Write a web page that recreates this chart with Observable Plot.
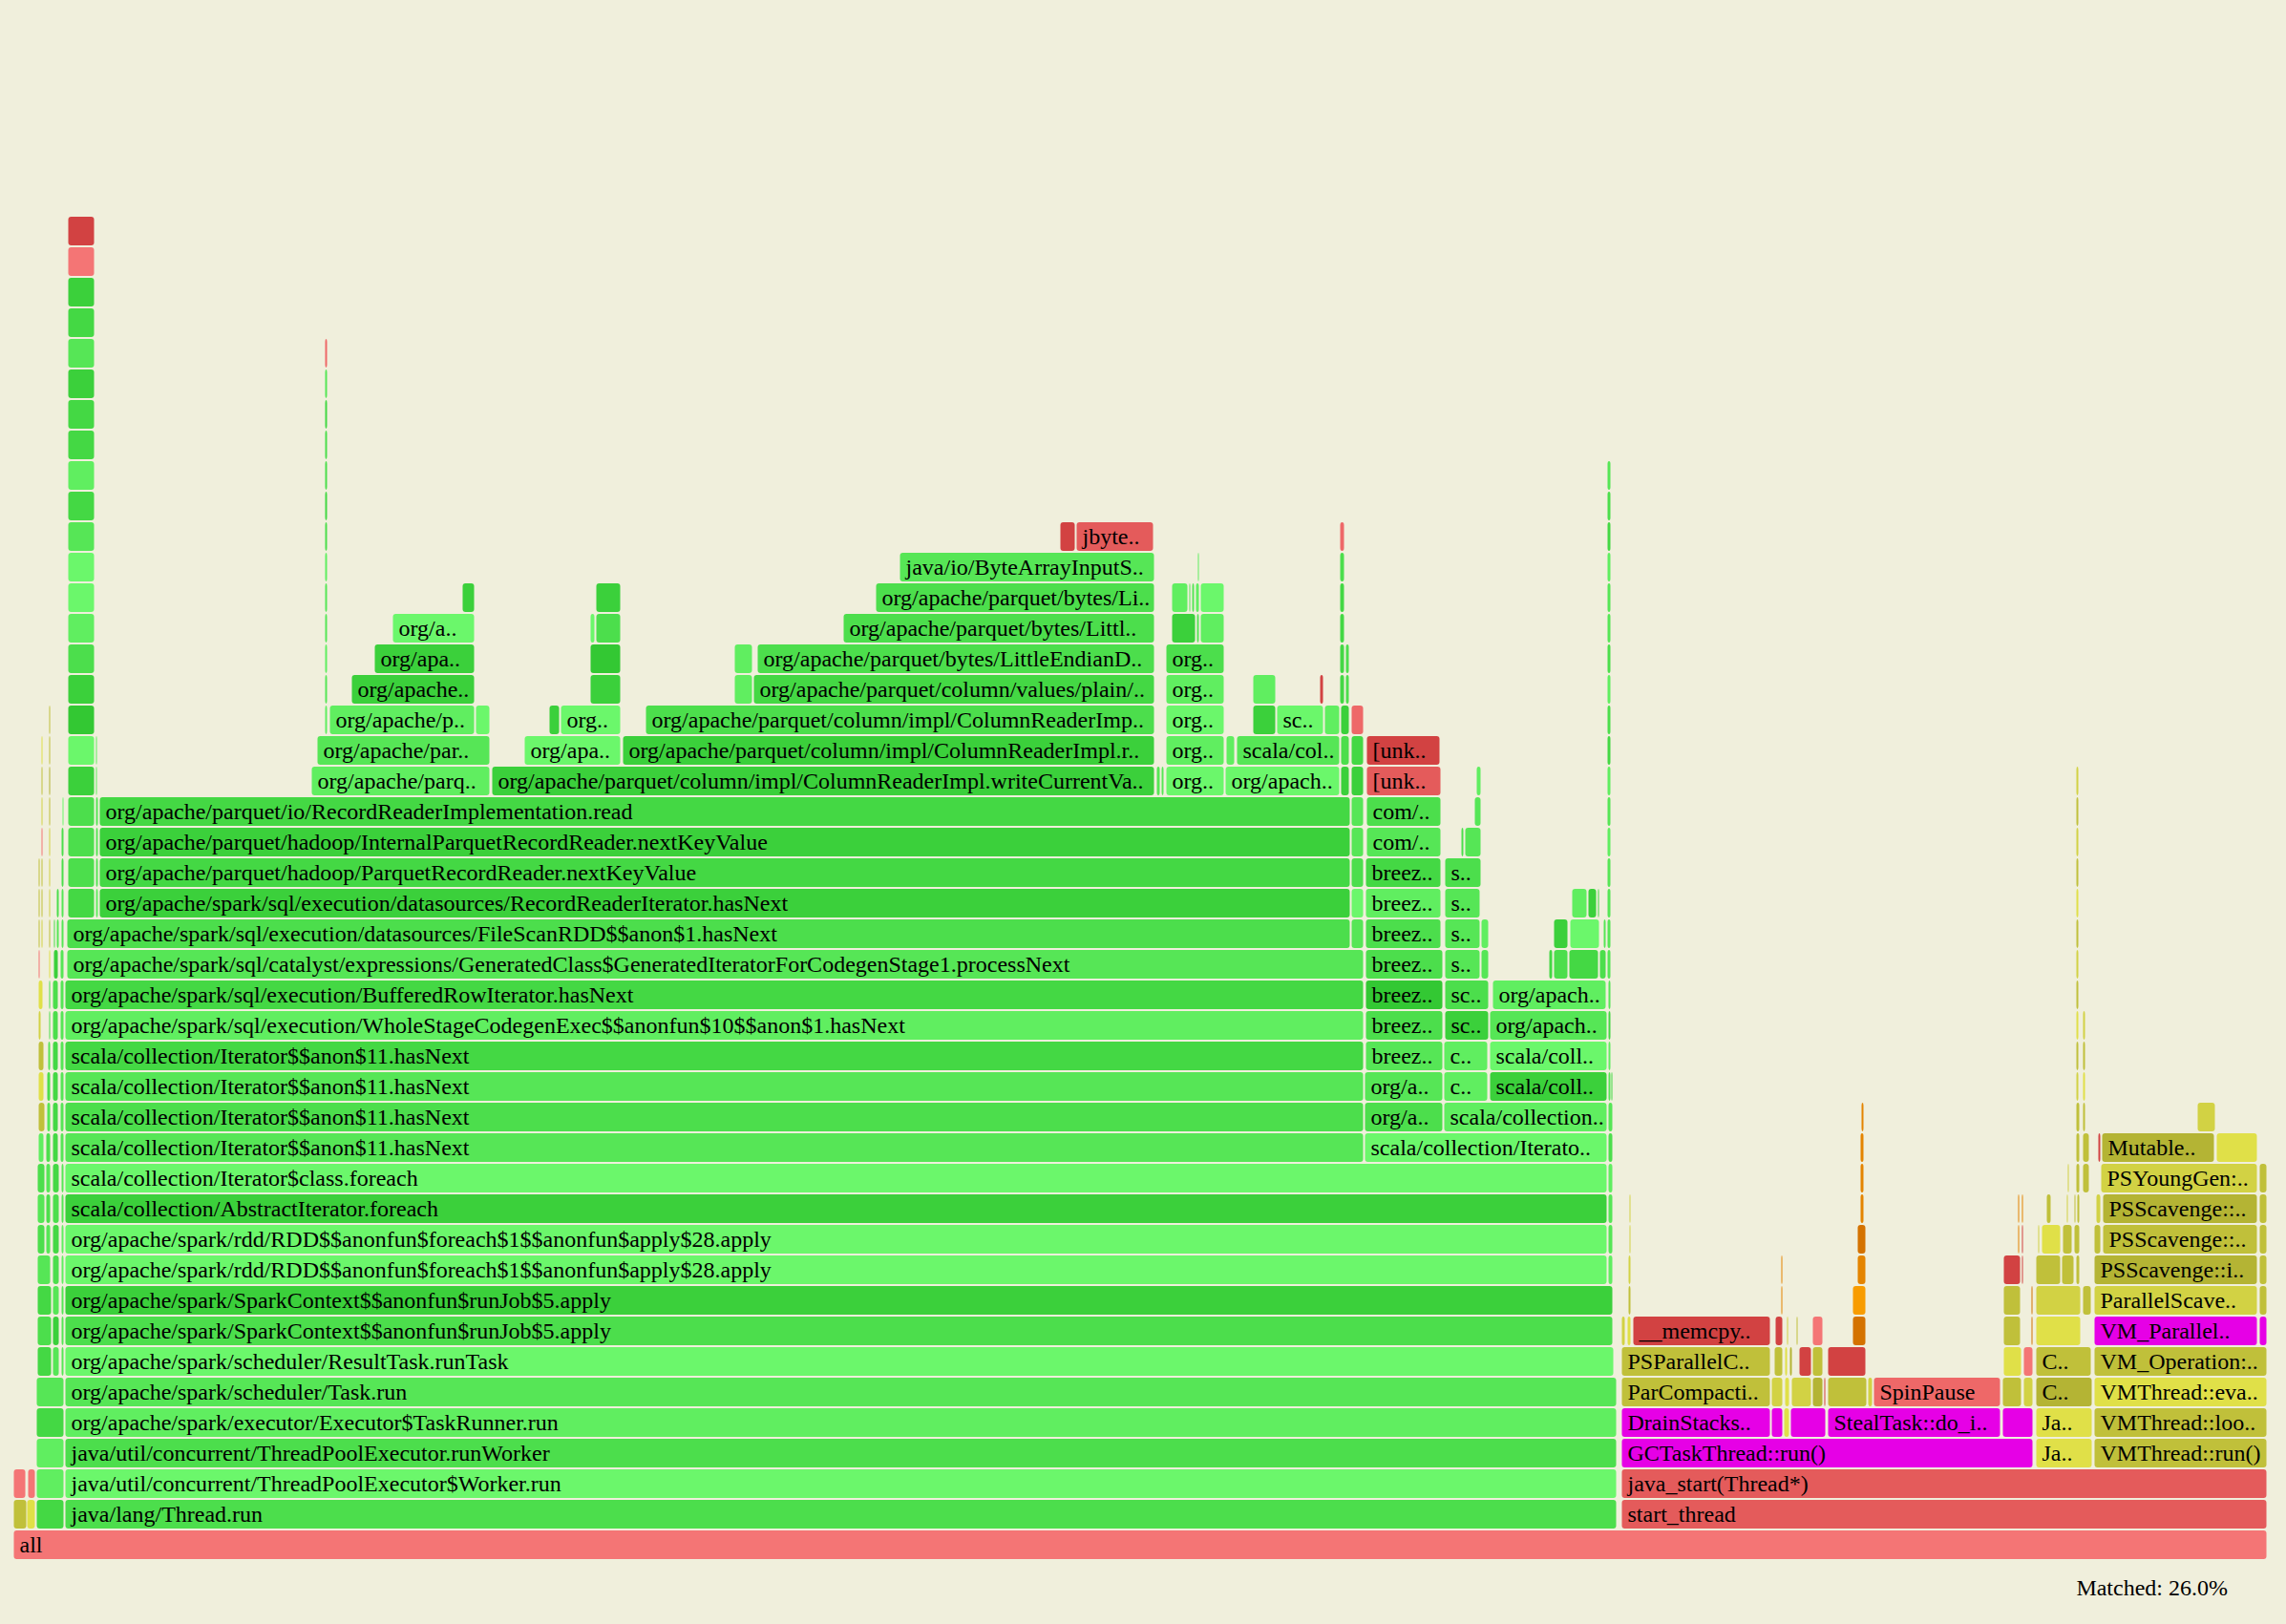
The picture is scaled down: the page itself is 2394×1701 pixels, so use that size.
<!DOCTYPE html>
<html><head><meta charset="utf-8">
<script src="https://cdn.jsdelivr.net/npm/d3@7"></script>
<script src="https://cdn.jsdelivr.net/npm/@observablehq/plot@0.6"></script>
<style>
html,body{margin:0;padding:0;background:#f0efdc;}
#chart svg{display:block}
#matched{font-family:"Liberation Serif",serif;font-size:24px;height:56px;line-height:36px;text-align:right;padding-right:61px;color:#000}
</style></head><body>
<div id="chart"></div><div id="matched">Matched: 26.0%</div>
<script>
// Flame graph: total samples and frames as [depth, startSample, endSample, label, colorKey]
const TOTAL_SAMPLES = 2360;

const shadeKeys = ["g1","g2","g3","g4","g5","g6","g7","r1","r2","r3","r4","y1","y2","y3","y4","m","o1","o2","o3"];
const shadeColors = ["#6bf76b","#60ee60","#56e656","#4cde4c","#44d844","#3bd03b","#33c833",
  "#f47575","#e45b5b","#d24242","#ee6868","#e0e048","#d2d244","#c0c03a","#b4b434","#e600e6","#f89c00","#e48400","#d47200"];

const rootFrames = [
  [0,0,2360,"all","r1"],
  [1,0,14,"","y3"],[1,14,23,"","y1"],[1,24,53,"","g5"],[1,54,1679,"java/lang/Thread.run","g4"],[1,1684,2360,"start_thread","r2"],
  [2,0,13,"","r1"],[2,15,23,"","r1"],[2,24,53,"","g2"],[2,54,1679,"java/util/concurrent/ThreadPoolExecutor$Worker.run","g1"],[2,1684,2360,"java_start(Thread*)","r2"],
  [3,24,53,"","g2"],[3,54,1679,"java/util/concurrent/ThreadPoolExecutor.runWorker","g4"],
  [4,24,53,"","g5"],[4,54,1679,"org/apache/spark/executor/Executor$TaskRunner.run","g2"],
  [5,24,53,"","g3"],[5,54,1679,"org/apache/spark/scheduler/Task.run","g3"]
];

const jvmFrames = [
  [3,1684,2115,"GCTaskThread::run()","m"],[3,2118,2177,"Ja..","y1"],[3,2179,2360,"VMThread::run()","y3"],
  [4,1684,1840,"DrainStacks..","m"],[4,1841,1853,"","m"],[4,1854,1860,"","y1"],[4,1861,1898,"","m"],[4,1900,2081,"StealTask::do_i..","m"],[4,2083,2115,"","m"],[4,2118,2177,"Ja..","y1"],[4,2179,2360,"VMThread::loo..","y3"],
  [5,1684,1840,"ParCompacti..","y3"],[5,1841,1853,"","y2"],[5,1855,1860,"","y1"],[5,1862,1883,"","y2"],[5,1884,1895,"","y4"],[5,1896,1898,"","r3"],[5,1900,1941,"","y3"],[5,1942,1947,"","y2"],[5,1948,2081,"SpinPause","r4"],[5,2083,2103,"","y3"],[5,2105,2115,"","y2"],[5,2118,2177,"C..","y4"],[5,2179,2360,"VMThread::eva..","y1"],
  [6,1684,1840,"PSParallelC..","y3"],[6,1844,1853,"","y3"],[6,1855,1858,"","y1"],[6,1860,1863,"","y4"],[6,1870,1883,"","r3"],[6,1884,1895,"","y3"],[6,1900,1940,"","r3"],[6,2084,2103,"","y1"],[6,2105,2115,"","r1"],[6,2118,2176,"C..","y3"],[6,2179,2360,"VM_Operation:..","y3"],
  [7,1684,1688,"","y2"],[7,1690,1694,"","y1"],[7,1696,1840,"__memcpy..","r3"],[7,1845,1853,"","r3"],[7,1857,1859,"","y2"],[7,1867,1869,"","y3"],[7,1884,1895,"","r1"],[7,1926,1940,"","o3"],[7,2084,2102,"","y3"],[7,2113,2115,"","o3"],[7,2118,2165,"","y1"],[7,2179,2350,"VM_Parallel..","m"],[7,2352,2360,"","m"],
  [8,1691,1694,"","y3"],[8,1851,1853,"","o2"],[8,1926,1940,"","o1"],[8,2084,2102,"","y3"],[8,2113,2115,"","o3"],[8,2118,2165,"","y2"],[8,2167,2176,"","y3"],[8,2179,2350,"ParallelScave..","y2"],[8,2352,2360,"","y3"],
  [9,1691,1694,"","y2"],[9,1851,1853,"","o2"],[9,1931,1940,"","o2"],[9,2084,2102,"","r3"],[9,2103,2105,"","r3"],[9,2118,2144,"","y3"],[9,2145,2158,"","y3"],[9,2160,2164,"","y3"],[9,2179,2350,"PSScavenge::i..","y4"],[9,2352,2360,"","y3"],
  [10,1692,1694,"","y2"],[10,1931,1940,"","o3"],[10,2099,2101,"","o2"],[10,2103,2105,"","r3"],[10,2120,2122,"","y2"],[10,2124,2144,"","y1"],[10,2146,2156,"","y3"],[10,2158,2164,"","y3"],[10,2179,2186,"","y3"],[10,2188,2350,"PSScavenge::..","y3"],[10,2352,2360,"","y3"],
  [11,1692,1694,"","y2"],[11,1934,1938,"","o2"],[11,2099,2101,"","o2"],[11,2103,2105,"","o2"],[11,2129,2134,"","y3"],[11,2150,2152,"","y2"],[11,2158,2160,"","y3"],[11,2161,2164,"","y3"],[11,2181,2186,"","y2"],[11,2188,2350,"PSScavenge::..","y4"],[11,2352,2360,"","y3"],
  [12,1934,1938,"","o2"],[12,2151,2153,"","y2"],[12,2160,2164,"","y3"],[12,2167,2174,"","y3"],[12,2186,2350,"PSYoungGen:..","y2"],[12,2352,2360,"","y3"],
  [13,1934,1938,"","o2"],[13,2160,2164,"","y3"],[13,2167,2174,"","y3"],[13,2183,2186,"","r3"],[13,2187,2305,"Mutable..","y4"],[13,2307,2350,"","y1"],
  [14,1935,1938,"","o2"],[14,2160,2164,"","y3"],[14,2167,2170,"","y3"],[14,2287,2306,"","y2"],
  [15,2160,2163,"","y2"],[15,2167,2170,"","y1"],
  [16,2160,2163,"","y3"],[16,2167,2170,"","y3"],
  [17,2160,2163,"","y1"],[17,2167,2170,"","y2"],
  [18,2160,2163,"","y3"],[19,2160,2163,"","y2"],[20,2160,2163,"","y3"],[21,2160,2163,"","y1"],
  [22,2160,2163,"","y3"],[23,2160,2163,"","y2"],[24,2160,2163,"","y3"],[25,2160,2163,"","y2"]
];

const sparkFrames = [
  [6,25,40,"","g5"],[6,41,48,"","g3"],[6,50,53,"","g3"],[6,54,1676,"org/apache/spark/scheduler/ResultTask.runTask","g1"],
  [7,25,40,"","g4"],[7,41,48,"","g6"],[7,50,53,"","g3"],[7,54,1675,"org/apache/spark/SparkContext$$anonfun$runJob$5.apply","g4"],
  [8,25,40,"","g5"],[8,41,48,"","g3"],[8,50,53,"","g3"],[8,54,1675,"org/apache/spark/SparkContext$$anonfun$runJob$5.apply","g6"],
  [9,25,39,"","g3"],[9,41,48,"","g4"],[9,50,53,"","g2"],[9,54,1669,"org/apache/spark/rdd/RDD$$anonfun$foreach$1$$anonfun$apply$28.apply","g1"],[9,1670,1675,"","g2"],
  [10,25,33,"","g4"],[10,34,39,"","g3"],[10,41,48,"","g5"],[10,50,53,"","g2"],[10,54,1669,"org/apache/spark/rdd/RDD$$anonfun$foreach$1$$anonfun$apply$28.apply","g1"],[10,1670,1675,"","g3"],
  [11,25,33,"","g3"],[11,34,39,"","g4"],[11,41,48,"","g4"],[11,50,53,"","g3"],[11,54,1669,"scala/collection/AbstractIterator.foreach","g6"],[11,1670,1675,"","g3"],
  [12,25,33,"","g4"],[12,34,39,"","g3"],[12,41,48,"","g5"],[12,50,53,"","g3"],[12,54,1669,"scala/collection/Iterator$class.foreach","g1"],[12,1670,1675,"","g2"],
  [13,26,32,"","g2"],[13,34,39,"","g4"],[13,41,47,"","g5"],[13,49,53,"","g3"],[13,54,1414,"scala/collection/Iterator$$anon$11.hasNext","g3"],[13,1415,1669,"scala/collection/Iterato..","g1"],[13,1670,1675,"","g4"],
  [14,26,33,"","y3"],[14,35,39,"","g3"],[14,41,47,"","g5"],[14,49,53,"","g3"],[14,54,1414,"scala/collection/Iterator$$anon$11.hasNext","g4"],[14,1415,1497,"org/a..","g4"],[14,1498,1669,"scala/collection..","g2"],[14,1670,1675,"","g3"],
  [15,26,32,"","y1"],[15,35,39,"","g4"],[15,41,47,"","g5"],[15,49,53,"","g3"],[15,54,1414,"scala/collection/Iterator$$anon$11.hasNext","g3"],[15,1415,1497,"org/a..","g3"],[15,1498,1544,"c..","g2"],[15,1546,1669,"scala/coll..","g6"],[15,1670,1673,"","g3"],[15,1673,1675,"","g5"],
  [16,26,32,"","y3"],[16,36,39,"","g3"],[16,41,47,"","g5"],[16,49,53,"","g3"],[16,54,1414,"scala/collection/Iterator$$anon$11.hasNext","g5"],[16,1416,1497,"breez..","g3"],[16,1498,1544,"c..","g2"],[16,1546,1669,"scala/coll..","g1"],[16,1670,1673,"","g2"],
  [17,26,29,"","y2"],[17,37,39,"","g4"],[17,41,47,"","g4"],[17,49,53,"","g3"],[17,54,1414,"org/apache/spark/sql/execution/WholeStageCodegenExec$$anonfun$10$$anon$1.hasNext","g2"],[17,1416,1497,"breez..","g4"],[17,1499,1545,"sc..","g6"],[17,1546,1669,"org/apach..","g3"],[17,1670,1673,"","g5"],
  [18,26,31,"","y1"],[18,37,39,"","g4"],[18,41,47,"","g4"],[18,49,53,"","g3"],[18,54,1414,"org/apache/spark/sql/execution/BufferedRowIterator.hasNext","g5"],[18,1416,1497,"breez..","g7"],[18,1499,1545,"sc..","g4"],[18,1549,1668,"org/apach..","g2"],[18,1670,1673,"","g3"],
  [19,26,28,"","r1"],[19,37,39,"","y1"],[19,42,47,"","g6"],[19,49,53,"","g3"],[19,56,1414,"org/apache/spark/sql/catalyst/expressions/GeneratedClass$GeneratedIteratorForCodegenStage1.processNext","g3"],[19,1416,1497,"breez..","g4"],[19,1499,1536,"s..","g3"],[19,1537,1545,"","g3"],[19,1608,1612,"","g5"],[19,1613,1628,"","g4"],[19,1629,1660,"","g5"],[19,1661,1668,"","g4"],[19,1669,1673,"","g3"],
  [20,26,28,"","y3"],[20,29,31,"","y2"],[20,37,39,"","y3"],[20,42,44,"","g4"],[20,45,48,"","g3"],[20,50,53,"","g3"],[20,56,1400,"org/apache/spark/sql/execution/datasources/FileScanRDD$$anon$1.hasNext","g4"],[20,1401,1414,"","g3"],[20,1416,1495,"breez..","g4"],[20,1499,1536,"s..","g3"],[20,1537,1545,"","g2"],[20,1613,1628,"","g6"],[20,1630,1661,"","g1"],[20,1665,1668,"","g3"],[20,1669,1673,"","g3"],
  [21,26,28,"","y3"],[21,29,31,"","y3"],[21,37,39,"","y2"],[21,45,48,"","g4"],[21,50,53,"","g3"],[21,57,85,"","g5"],[21,86,89,"","g2"],[21,90,1400,"org/apache/spark/sql/execution/datasources/RecordReaderIterator.hasNext","g6"],[21,1401,1414,"","g1"],[21,1416,1495,"breez..","g2"],[21,1499,1536,"s..","g3"],[21,1632,1648,"","g2"],[21,1649,1658,"","g6"],[21,1659,1661,"","g5"],[21,1669,1673,"","g3"],
  [22,26,28,"","y3"],[22,29,31,"","y3"],[22,37,39,"","y2"],[22,50,53,"","g4"],[22,57,85,"","g4"],[22,86,89,"","g3"],[22,90,1400,"org/apache/parquet/hadoop/ParquetRecordReader.nextKeyValue","g5"],[22,1401,1414,"","g4"],[22,1416,1495,"breez..","g5"],[22,1499,1537,"s..","g4"],[22,1669,1673,"","g3"],
  [23,29,31,"","r1"],[23,37,39,"","y2"],[23,50,53,"","g4"],[23,57,85,"","g4"],[23,86,89,"","g3"],[23,90,1400,"org/apache/parquet/hadoop/InternalParquetRecordReader.nextKeyValue","g6"],[23,1401,1414,"","g3"],[23,1417,1495,"com/..","g3"],[23,1516,1519,"","g4"],[23,1520,1537,"","g3"],[23,1669,1673,"","g2"],
  [24,29,31,"","y2"],[24,37,39,"","y3"],[24,51,53,"","g1"],[24,57,85,"","g4"],[24,86,89,"","g3"],[24,90,1400,"org/apache/parquet/io/RecordReaderImplementation.read","g5"],[24,1401,1414,"","g3"],[24,1417,1495,"com/..","g4"],[24,1530,1537,"","g3"],[24,1669,1673,"","g3"]
];

const parquetFrames = [
  [25,29,31,"","y3"],[25,37,39,"","y4"],[25,57,85,"","g6"],[25,86,88,"","g2"],
  [25,312,499,"org/apache/parq..","g2"],[25,501,1195,"org/apache/parquet/column/impl/ColumnReaderImpl.writeCurrentVa..","g6"],[25,1197,1201,"","g3"],[25,1202,1205,"","g3"],[25,1207,1268,"org..","g1"],[25,1269,1389,"org/apach..","g1"],[25,1390,1399,"","g6"],[25,1401,1414,"","g6"],[25,1417,1495,"[unk..","r2"],[25,1532,1537,"","g2"],[25,1669,1673,"","g2"],
  [26,29,31,"","y1"],[26,37,39,"","y3"],[26,57,85,"","g1"],[26,86,88,"","g2"],
  [26,318,499,"org/apache/par..","g3"],[26,535,636,"org/apa..","g1"],[26,638,1195,"org/apache/parquet/column/impl/ColumnReaderImpl.r..","g6"],[26,1207,1268,"org..","g2"],[26,1270,1279,"","g2"],[26,1281,1389,"scala/col..","g3"],[26,1390,1399,"","g4"],[26,1401,1414,"","g5"],[26,1417,1494,"[unk..","r3"],[26,1669,1673,"","g5"],
  [27,37,39,"","y3"],[27,57,85,"","g7"],[27,326,329,"","g2"],[27,331,483,"org/apache/p..","g2"],[27,484,499,"","g1"],[27,561,572,"","g6"],[27,573,636,"org..","g1"],[27,662,1195,"org/apache/parquet/column/impl/ColumnReaderImp..","g4"],[27,1207,1268,"org..","g1"],[27,1298,1322,"","g6"],[27,1323,1372,"sc..","g1"],[27,1373,1389,"","g2"],[27,1390,1399,"","g6"],[27,1401,1414,"","r4"],[27,1669,1673,"","g4"],
  [28,57,85,"","g6"],[28,326,329,"","g3"],[28,354,483,"org/apache..","g6"],[28,604,636,"","g6"],[28,755,774,"","g2"],[28,775,1195,"org/apache/parquet/column/values/plain/..","g5"],[28,1207,1268,"org..","g2"],[28,1298,1322,"","g2"],[28,1368,1372,"","r3"],[28,1389,1394,"","g5"],[28,1395,1399,"","g4"],[28,1669,1673,"","g2"],
  [29,57,85,"","g4"],[29,326,329,"","g2"],[29,378,483,"org/apa..","g6"],[29,604,636,"","g7"],[29,755,774,"","g2"],[29,779,1195,"org/apache/parquet/bytes/LittleEndianD..","g4"],[29,1207,1268,"org..","g4"],[29,1389,1394,"","g5"],[29,1395,1399,"","g4"],[29,1669,1673,"","g4"],
  [30,57,85,"","g2"],[30,326,329,"","g3"],[30,397,483,"org/a..","g1"],[30,604,609,"","g1"],[30,610,636,"","g4"],[30,869,1195,"org/apache/parquet/bytes/Littl..","g4"],[30,1213,1238,"","g6"],[30,1239,1242,"","g3"],[30,1243,1268,"","g2"],[30,1389,1394,"","g5"],[30,1669,1673,"","g3"],
  [31,57,85,"","g1"],[31,326,329,"","g3"],[31,470,483,"","g6"],[31,610,636,"","g6"],[31,903,1195,"org/apache/parquet/bytes/Li..","g4"],[31,1213,1230,"","g2"],[31,1231,1233,"","g3"],[31,1234,1237,"","g3"],[31,1238,1242,"","g2"],[31,1243,1268,"","g1"],[31,1389,1394,"","g5"],[31,1669,1673,"","g3"],
  [32,57,85,"","g1"],[32,326,329,"","g2"],[32,928,1195,"java/io/ByteArrayInputS..","g3"],[32,1240,1242,"","g2"],[32,1389,1394,"","g4"],[32,1669,1673,"","g2"],
  [33,57,85,"","g3"],[33,326,329,"","g4"],[33,1096,1112,"","r3"],[33,1113,1194,"jbyte..","r2"],[33,1389,1394,"","r4"],[33,1669,1673,"","g5"],
  [34,57,85,"","g5"],[34,326,329,"","g5"],[34,1669,1673,"","g4"],
  [35,57,85,"","g2"],[35,326,329,"","g4"],[35,1669,1673,"","g3"],
  [36,57,85,"","g5"],[36,326,329,"","g4"],
  [37,57,85,"","g5"],[37,326,329,"","g5"],
  [38,57,85,"","g6"],[38,326,329,"","g3"],
  [39,57,85,"","g3"],[39,326,329,"","r4"],
  [40,57,85,"","g5"],
  [41,57,85,"","g6"],
  [42,57,85,"","r1"],
  [43,57,85,"","r3"]
];

const frames = [...rootFrames, ...jvmFrames, ...sparkFrames, ...parquetFrames]
  .map(([depth, start, end, label, shade]) => ({depth, top: depth + 1, mid: depth + 0.5, start, end, label, shade}));

const chart = Plot.plot({
  width: 2394,
  height: 1645,
  marginLeft: 14,
  marginRight: 20,
  marginTop: 2,
  marginBottom: 11,
  style: {background: "#f0efdc", overflow: "visible"},
  x: {domain: [0, TOTAL_SAMPLES], axis: null},
  y: {domain: [0, 51], axis: null},
  color: {domain: shadeKeys, range: shadeColors},
  marks: [
    Plot.rect(frames, {x1: "start", x2: "end", y1: "depth", y2: "top", fill: "shade", rx: 3,
      insetLeft: 0.5, insetRight: 0.5, insetTop: 1, insetBottom: 1}),
    Plot.text(frames.filter(d => d.label), {x: "start", y: "mid", text: "label", textAnchor: "start",
      dx: 6, fontSize: 24, fontFamily: "Liberation Serif", fill: "#000"})
  ]
});
document.getElementById("chart").appendChild(chart);
</script></body></html>
